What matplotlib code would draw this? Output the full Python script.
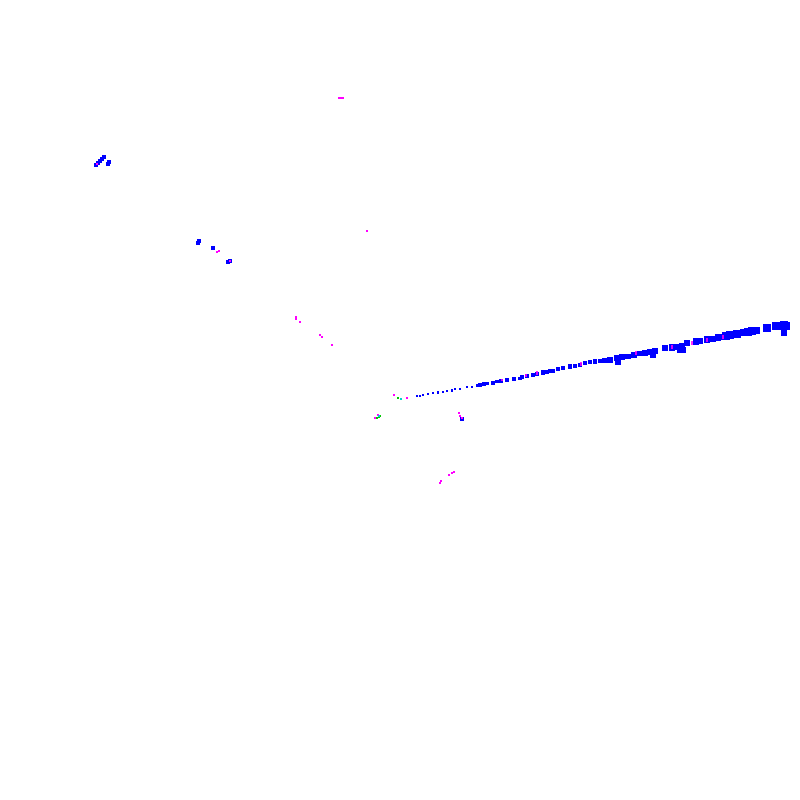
import matplotlib
matplotlib.use("Agg")
import matplotlib.pyplot as plt
import numpy as np

# projected point cloud, image-like coordinates (x right, y down)
streak_x = [417, 420, 423, 428, 433, 438, 443, 447, 452, 455, 460, 467, 472, 477, 480,
            484, 487, 493, 497, 501, 507, 514, 520, 522, 527, 533, 537, 543, 547, 550,
            553, 558, 563, 570, 575, 580, 585, 590, 595, 600, 605, 610, 617, 622, 628,
            634, 640, 645, 650, 655, 665, 672, 676, 682, 687, 696, 700, 707, 713, 718,
            722, 726, 730, 737, 744, 748, 752, 756, 767, 776, 779, 784, 786]
streak_y = [396, 396, 395, 394, 393, 392.5, 392, 391, 390.5, 389, 389, 387, 387, 385.5, 385,
            384, 383.5, 383, 381.5, 381, 380, 379, 378.5, 377, 376, 375, 374, 372.5, 372, 371,
            371, 369, 368, 366.5, 366, 365, 363, 362, 361.5, 361, 360.5, 360, 358, 357, 356.5,
            355, 353.5, 353, 352, 351, 348, 347.5, 347, 346, 343, 341.5, 341, 339.5, 339, 337.5,
            337, 336, 335, 334, 332.5, 332, 331, 330.5, 328, 326, 326.5, 325, 326]

streak_pink_x = [502, 526, 537, 581, 636, 672, 692, 707, 723]
streak_pink_y = [380, 375.5, 373, 364, 353, 347, 343, 340, 337]

drop_x = [618, 653, 680, 683, 784]
drop_y = [362, 355, 350, 350, 333]

blue_x = [96, 98, 100, 102, 104, 108, 109, 198, 199, 213, 228, 230, 462]
blue_y = [165, 163, 161, 159, 157, 164, 162, 243, 241, 248, 262, 261, 419]

pink_x = [339, 341, 343, 367, 97, 217, 219, 230, 296, 296, 300, 320, 322, 332,
          394, 407, 459, 460, 462, 452, 454, 449, 440, 441, 378, 375]
pink_y = [97.5, 97.5, 97.5, 231, 164, 252, 251, 261, 317, 319, 322, 335, 337, 345,
          395, 398, 413, 416, 418, 473, 472, 475, 483, 481, 415, 418]

green_x = [398, 379, 377, 380]
green_y = [398, 417, 418, 416]

cyan_x = [401, 379]
cyan_y = [399, 416]

fig = plt.figure(figsize=(8, 8), dpi=100)
ax = fig.add_axes([0, 0, 1, 1])

# marks grow toward the viewer (right end of the streak)
sx = np.array(streak_x)
side_px = 2 + 6 * (sx - sx.min()) / (sx.max() - sx.min())
sizes = (side_px * 0.72) ** 2

ax.scatter(streak_x, streak_y, s=sizes, marker="s", c="#0000ff", linewidths=0)
ax.scatter(drop_x, drop_y, s=[14, 16, 16, 16, 22], marker="s", c="#0000ff", linewidths=0)
ax.scatter(streak_pink_x, streak_pink_y, s=[4, 4, 5, 6, 8, 9, 10, 11, 12], marker="|",
           c="#ff00ff", linewidths=1.2)

ax.scatter(blue_x, blue_y, s=6, marker="s", c="#0000ff", linewidths=0)
ax.scatter(pink_x, pink_y, s=4.5, marker="s", c="#ff00ff", linewidths=0)
ax.scatter(green_x, green_y, s=3, marker="s", c="#00c800", linewidths=0)
ax.scatter(cyan_x, cyan_y, s=2.5, marker="s", c="#00d0d0", linewidths=0)

ax.set_xlim(0, 800)
ax.set_ylim(800, 0)
ax.axis("off")

plt.savefig("out.png", dpi=100)
plt.close()
